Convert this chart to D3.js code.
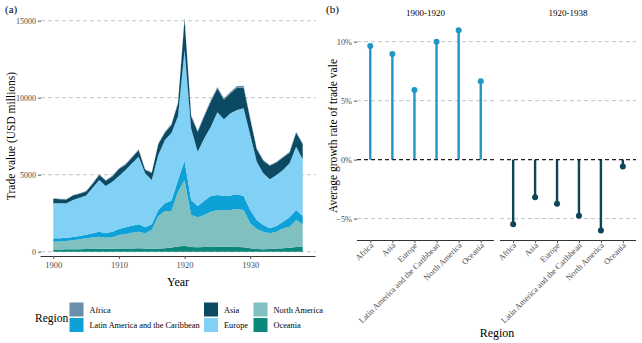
<!DOCTYPE html>
<html lang="en">
<head>
<meta charset="utf-8">
<title>Trade value by region</title>
<script src="https://cdn.jsdelivr.net/npm/d3@7"></script>
<style>
  body { margin: 0; background: #fff; }
  svg text { font-family: "Liberation Serif", "DejaVu Serif", serif; }
  .tick text { fill: #4d4d4d; }
</style>
</head>
<body>
<script>
// yearly trade value (USD millions), one array per region
var years = d3.range(1900, 1939);
var oceania = [150,150,155,160,165,170,180,190,185,190,200,205,215,225,200,190,200,230,280,330,380,300,290,300,330,330,320,320,310,290,220,170,160,170,200,230,260,310,330];
var northAmerica = [500,510,545,590,640,700,750,785,725,750,885,945,1020,1075,995,1220,2120,2410,2360,3570,4275,2080,1945,2080,2270,2380,2390,2390,2460,2420,1625,1305,1140,1025,1100,1290,1365,1750,1450];
var latinAmerica = [220,220,210,210,215,230,270,325,285,360,390,430,455,480,390,370,390,500,670,755,1255,980,735,930,1020,970,910,940,960,910,865,585,435,325,370,430,610,650,540];
var europe = [2270,2260,2230,2390,2490,2550,2950,3355,3071,3245,3440,3720,4050,4390,3505,2875,3570,4110,4390,4145,7190,4640,3520,4050,4500,5380,4980,5340,5470,5690,4890,3785,3355,3180,3310,3355,3505,4110,3680];
var asia = [297,270,250,295,245,255,270,330,344,345,450,340,375,420,210,450,700,470,530,820,1980,800,1290,1440,1640,1540,1260,1300,1450,1360,1020,810,815,880,815,810,690,900,980];
var africa = [30,30,30,35,35,35,40,45,40,45,50,50,55,60,50,50,60,70,70,80,120,80,70,80,90,100,100,100,110,110,80,60,50,50,50,55,60,70,60];

// average growth rate per region, two periods
var regions = ["Africa", "Asia", "Europe", "Latin America and the Caribbean", "North America", "Oceania"];
var growth1900 = [0.0963, 0.0895, 0.059, 0.100, 0.1098, 0.0664];
var growth1920 = [-0.0547, -0.032, -0.0374, -0.0476, -0.060, -0.0058];
var periods = ["1900-1920", "1920-1938"];

var yTicksA = [0, 5000, 10000, 15000];
var yTicksB = [-0.05, 0, 0.05, 0.10];

var colors = {
  "Africa": "#6990a8",
  "Asia": "#0b4a62",
  "Europe": "#80d1f5",
  "Latin America and the Caribbean": "#0ea1d8",
  "North America": "#80c0c0",
  "Oceania": "#0b877c"
};

var serif = "Liberation Serif, DejaVu Serif, serif";
var W = 642, H = 343;
var svg = d3.select("body").append("svg").attr("width", W).attr("height", H);

/* ---------- panel (a): stacked area ---------- */
var rows = years.map(function(y, i) {
  return {
    year: y,
    "Oceania": oceania[i],
    "North America": northAmerica[i],
    "Latin America and the Caribbean": latinAmerica[i],
    "Europe": europe[i],
    "Asia": asia[i],
    "Africa": africa[i]
  };
});
var stackKeys = ["Oceania", "North America", "Latin America and the Caribbean", "Europe", "Asia", "Africa"];
var series = d3.stack().keys(stackKeys)(rows);

var x = d3.scaleLinear().domain([1900, 1938]).range([53.3, 302.7]);
var y = d3.scaleLinear().domain([0, 15000]).range([251.7, 20.7]);

var gA = svg.append("g");

gA.selectAll("line.grid")
  .data(yTicksA)
  .enter().append("line")
  .attr("class", "grid")
  .attr("x1", 41).attr("x2", 316)
  .attr("y1", function(d) { return y(d); })
  .attr("y2", function(d) { return y(d); })
  .attr("stroke", "#c4c4c4")
  .attr("stroke-width", 1)
  .attr("stroke-dasharray", "4,3");

var area = d3.area()
  .x(function(d) { return x(d.data.year); })
  .y0(function(d) { return y(d[0]); })
  .y1(function(d) { return y(d[1]); });

gA.selectAll("path.layer")
  .data(series)
  .enter().append("path")
  .attr("class", "layer")
  .attr("d", area)
  .attr("fill", function(d) { return colors[d.key]; });

var yAxisA = d3.axisLeft(y).tickValues(yTicksA).tickFormat(d3.format("d")).tickSize(3).tickPadding(2);
gA.append("g")
  .attr("transform", "translate(41,0)")
  .attr("font-family", serif)
  .call(yAxisA)
  .call(function(g) {
    g.select(".domain").remove();
    g.selectAll(".tick line").attr("stroke", "#555");
    g.selectAll(".tick text").attr("font-size", 8);
  });

var xAxisA = d3.axisBottom(x).tickValues([1900, 1910, 1920, 1930]).tickFormat(d3.format("d")).tickSize(3).tickPadding(3);
gA.append("g")
  .attr("transform", "translate(0,256)")
  .call(xAxisA)
  .attr("font-family", serif)
  .call(function(g) {
    g.select(".domain").attr("d", "M40.5,0.5H315.5").attr("stroke", "#333");
    g.selectAll(".tick line").attr("stroke", "#555");
    g.selectAll(".tick text").attr("font-size", 8.5);
  });

svg.append("text").attr("x", 5).attr("y", 13).attr("font-size", 11).text("(a)");
svg.append("text").attr("x", 178).attr("y", 286).attr("text-anchor", "middle").attr("font-size", 12).text("Year");
svg.append("text")
  .attr("transform", "translate(15,136) rotate(-90)")
  .attr("text-anchor", "middle").attr("font-size", 11.5)
  .text("Trade value (USD millions)");

// legend, three columns of two
var legendItems = [
  { key: "Africa", x: 69.5, y: 302.5 },
  { key: "Latin America and the Caribbean", x: 69.5, y: 318 },
  { key: "Asia", x: 204, y: 302.5 },
  { key: "Europe", x: 204, y: 318 },
  { key: "North America", x: 253.5, y: 302.5 },
  { key: "Oceania", x: 253.5, y: 318 }
];
var lg = svg.append("g");
lg.append("text").attr("x", 35).attr("y", 321.5).attr("font-size", 11.5).text("Region");
var li = lg.selectAll("g.item").data(legendItems).enter().append("g").attr("class", "item");
li.append("rect")
  .attr("x", function(d) { return d.x; })
  .attr("y", function(d) { return d.y; })
  .attr("width", 14).attr("height", 14)
  .attr("fill", function(d) { return colors[d.key]; });
li.append("text")
  .attr("x", function(d) { return d.x + 20; })
  .attr("y", function(d) { return d.y + 10; })
  .attr("font-size", 8.3)
  .text(function(d) { return d.key; });

/* ---------- panel (b): lollipops by period ---------- */
var yb = d3.scaleLinear().domain([-0.05, 0.10]).range([218.6, 41.7]);
var panels = [
  { label: periods[0], values: growth1900, x0: 357, x1: 494, color: "#2196c4" },
  { label: periods[1], values: growth1920, x0: 500, x1: 636, color: "#0d4457" }
];

panels.forEach(function(p) {
  var xb = d3.scalePoint().domain(regions).range([p.x0, p.x1]).padding(0.6);
  var g = svg.append("g");

  g.selectAll("line.grid")
    .data(yTicksB.filter(function(t) { return t !== 0; }))
    .enter().append("line")
    .attr("x1", p.x0).attr("x2", p.x1)
    .attr("y1", function(d) { return yb(d); })
    .attr("y2", function(d) { return yb(d); })
    .attr("stroke", "#c4c4c4")
    .attr("stroke-dasharray", "4,3");

  var pts = regions.map(function(r, i) { return { region: r, v: p.values[i] }; });

  g.selectAll("line.stem")
    .data(pts)
    .enter().append("line")
    .attr("x1", function(d) { return xb(d.region); })
    .attr("x2", function(d) { return xb(d.region); })
    .attr("y1", yb(0))
    .attr("y2", function(d) { return yb(d.v); })
    .attr("stroke", p.color)
    .attr("stroke-width", 2.4);

  g.selectAll("circle")
    .data(pts)
    .enter().append("circle")
    .attr("cx", function(d) { return xb(d.region); })
    .attr("cy", function(d) { return yb(d.v); })
    .attr("r", 3)
    .attr("fill", p.color);

  g.append("line")
    .attr("x1", p.x0).attr("x2", p.x1)
    .attr("y1", yb(0)).attr("y2", yb(0))
    .attr("stroke", "#222")
    .attr("stroke-width", 1.1)
    .attr("stroke-dasharray", "4,3");

  var xAxisB = d3.axisBottom(xb).tickSize(3).tickPadding(2);
  g.append("g")
    .attr("transform", "translate(0,240)")
    .call(xAxisB)
    .attr("font-family", serif)
    .call(function(s) {
      s.select(".domain").attr("d", "M" + p.x0 + ",0.5H" + p.x1).attr("stroke", "#333");
      s.selectAll(".tick line").attr("stroke", "#555");
      s.selectAll(".tick text")
        .attr("font-size", 8.3)
        .attr("text-anchor", "end")
        .attr("dy", null)
        .attr("transform", "translate(3,6) rotate(-45)")
        .attr("y", 0).attr("x", 0);
    });

  g.append("text")
    .attr("x", (p.x0 + p.x1) / 2).attr("y", 16)
    .attr("text-anchor", "middle").attr("font-size", 9)
    .text(p.label);
});

var yAxisB = d3.axisLeft(yb).tickValues(yTicksB).tickFormat(d3.format(".0%")).tickSize(3).tickPadding(2);
svg.append("g")
  .attr("transform", "translate(357,0)")
  .call(yAxisB)
  .attr("font-family", serif)
  .call(function(g) {
    g.select(".domain").remove();
    g.selectAll(".tick line").attr("stroke", "#555");
    g.selectAll(".tick text").attr("font-size", 8.3);
  });

svg.append("text").attr("x", 326).attr("y", 13).attr("font-size", 11).text("(b)");
svg.append("text").attr("x", 497).attr("y", 337).attr("text-anchor", "middle").attr("font-size", 12).text("Region");
svg.append("text")
  .attr("transform", "translate(337,136) rotate(-90)")
  .attr("text-anchor", "middle").attr("font-size", 11.5)
  .text("Average growth rate of trade vale");
</script>
</body>
</html>
